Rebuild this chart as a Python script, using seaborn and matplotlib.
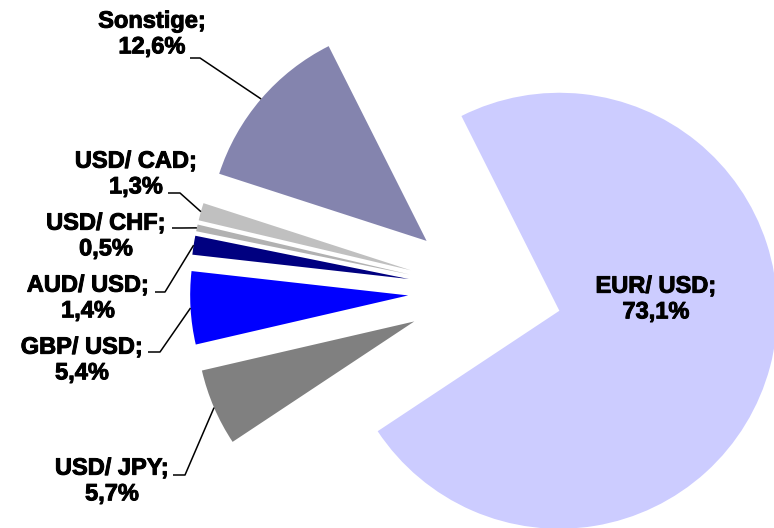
import numpy as np
import matplotlib
matplotlib.use("Agg")
import matplotlib.pyplot as plt
import matplotlib.patheffects as pe
from matplotlib import font_manager
import seaborn as sns

# Data (share of FX turnover, %)
pairs = ['EUR/ USD', 'USD/ JPY', 'GBP/ USD', 'AUD/ USD', 'USD/ CHF', 'USD/ CAD', 'Sonstige']
shares = [73.1, 5.7, 5.4, 1.4, 0.5, 1.3, 12.6]
slice_colors = ['#CCCCFF', '#808080', '#0000FF', '#000080', '#B2B2B2', '#C0C0C0', '#8484AE']

sns.set_theme(style="white")
plt.rcParams['font.family'] = ['Liberation Sans', 'DejaVu Sans']
label_font = font_manager.FontProperties(family='Liberation Sans', weight='bold', size=17)

W, H = 774, 528
CX, CY, R = 485, 291, 218  # pie centre and radius in pixels


def px(x, y):
    # pixel position -> data coords (1 unit = pie radius)
    return (x - CX) / R, (CY - y) / R


fig = plt.figure(figsize=(W / 100, H / 100), dpi=100)
ax = fig.add_axes([0, 0, 1, 1])

wedges, _ = ax.pie(shares, colors=slice_colors, startangle=116.7, counterclock=False,
                   explode=[0.353] * len(shares), radius=1,
                   wedgeprops=dict(linewidth=0))

ax.set_xlim(-CX / R, (W - CX) / R)
ax.set_ylim((CY - H) / R, CY / R)
ax.set_aspect('equal', adjustable='datalim')
ax.axis('off')

# label block centres and leader elbow (start, end of horizontal part), pixels
label_pos = [(656, 299), (112, 481), (82, 360), (88, 298), (106, 236), (136, 174), (152, 34)]
elbows = [None, ((173, 475), (185, 475)), ((148, 352), (160, 352)), ((155, 292), (165, 292)),
          ((172, 228), (182, 228)), ((168, 193), (180, 193)), ((190, 58), (200, 58))]

# slightly heavier strokes, like the original's bold Arial
heavy = [pe.withStroke(linewidth=0.7, foreground='black')]

for w, pair, share, pos, elb in zip(wedges, pairs, shares, label_pos, elbows):
    txt = f"{pair};\n{share:.1f}%".replace('.', ',')
    x, y = px(*pos)
    ax.text(x, y, txt, ha='center', va='center', multialignment='center',
            fontproperties=label_font, color='black', linespacing=1.15,
            path_effects=heavy)
    if elb is None:
        continue
    ang = np.deg2rad((w.theta1 + w.theta2) / 2)
    ex = w.center[0] + w.r * np.cos(ang)
    ey = w.center[1] + w.r * np.sin(ang)
    (sx, sy), (mx, my) = px(*elb[0]), px(*elb[1])
    ax.plot([sx, mx, ex], [sy, my, ey], color='black', lw=1.1, solid_capstyle='butt')

fig.savefig('out.png', dpi=100, facecolor='white')
